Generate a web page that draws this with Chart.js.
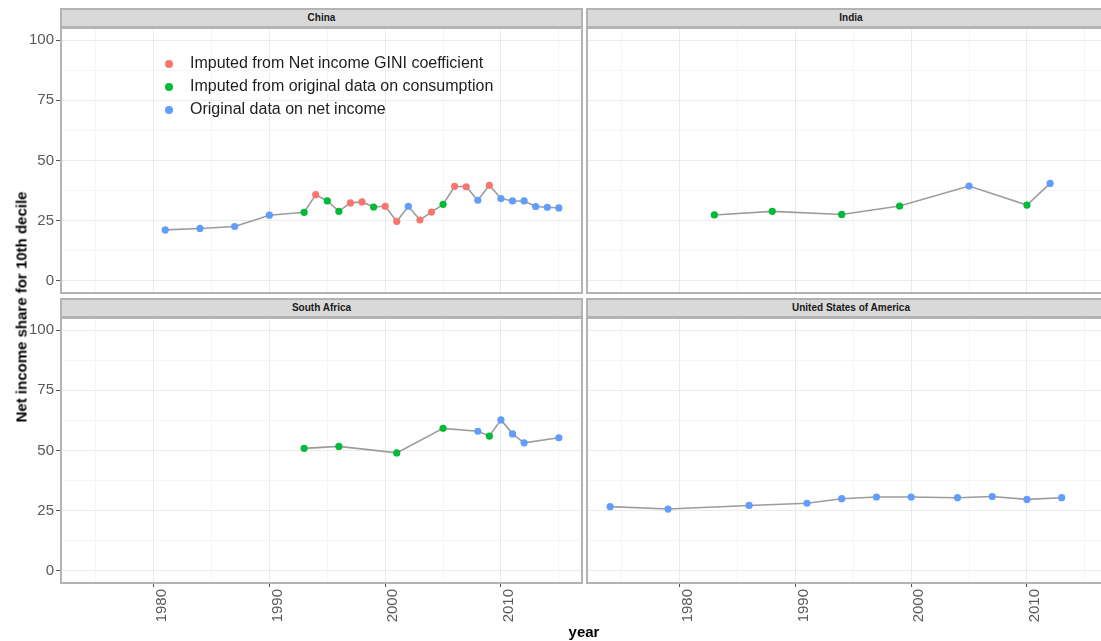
<!DOCTYPE html>
<html>
<head>
<meta charset="utf-8">
<script src="https://cdn.jsdelivr.net/npm/chart.js@4/dist/chart.umd.min.js"></script>
<style>
  html, body { margin: 0; padding: 0; }
  body { width: 1101px; height: 641px; overflow: hidden; background: #fff; position: relative;
         font-family: "Liberation Sans", Arial, sans-serif; }
  .strip { position: absolute; box-sizing: border-box; background: #D9D9D9; border: 2px solid #B3B3B3;
           text-align: center; font-weight: bold; font-size: 10px; color: #1A1A1A; line-height: 16px; }
  .panel { position: absolute; box-sizing: border-box; border: 2px solid #B3B3B3; pointer-events: none; z-index: 3; }
  canvas { position: absolute; }
  .leg { position: absolute; font-size: 16px; color: #1E1E1E; white-space: nowrap; z-index: 4; }
  .dot { position: absolute; width: 8px; height: 8px; border-radius: 50%; z-index: 4; }
  .ytitle { position: absolute; font-weight: bold; font-size: 15px; color: #000; white-space: nowrap;
            transform: translate(-50%, -50%) rotate(-90deg); left: 21px; top: 307px; }
  .xtitle { position: absolute; font-weight: bold; font-size: 15px; color: #000; white-space: nowrap;
            transform: translate(-50%, -50%); left: 584px; top: 631px; }
</style>
</head>
<body>
<canvas id="cTL" width="582" height="265" style="left:0;top:28px"></canvas>
<canvas id="cTR" width="521" height="265" style="left:587px;top:28px"></canvas>
<canvas id="cBL" width="582" height="323" style="left:0;top:318px"></canvas>
<canvas id="cBR" width="521" height="323" style="left:587px;top:318px"></canvas>
<div id="deco"></div>
<div class="ytitle">Net income share for 10th decile</div>
<div class="xtitle">year</div>
<script>
// ---------- data ----------
const sourceNames = ["Imputed from Net income GINI coefficient", "Imputed from original data on consumption", "Original data on net income"];
const sourceColors = ["#F8766D", "#00BA38", "#619CFF"];
const countries = ["China", "India", "South Africa", "United States of America"];

const chinaYears  = [1981,1984,1987,1990,1993,1994,1995,1996,1997,1998,1999,2000,2001,2002,2003,2004,2005,2006,2007,2008,2009,2010,2011,2012,2013,2014,2015];
const chinaShare  = [21.2,21.8,22.6,27.3,28.5,35.8,33.2,28.9,32.4,32.8,30.7,31.0,24.7,31.0,25.3,28.6,31.8,39.3,39.1,33.5,39.7,34.2,33.2,33.2,30.9,30.6,30.3];
const chinaSource = [2,2,2,2,1,0,1,1,0,0,1,0,0,2,0,0,1,0,0,2,0,2,2,2,2,2,2];

const indiaYears  = [1983,1988,1994,1999,2005,2010,2012];
const indiaShare  = [27.4,28.9,27.6,31.1,39.4,31.5,40.5];
const indiaSource = [1,1,1,1,2,1,2];

const saYears  = [1993,1996,2001,2005,2008,2009,2010,2011,2012,2015];
const saShare  = [50.9,51.7,49.0,59.2,58.0,56.0,62.7,56.9,53.2,55.3];
const saSource = [1,1,1,1,2,1,2,2,2,2];

const usYears  = [1974,1979,1986,1991,1994,1997,2000,2004,2007,2010,2013];
const usShare  = [26.7,25.7,27.2,28.1,30.0,30.7,30.7,30.4,30.9,29.7,30.4];
const usSource = [2,2,2,2,2,2,2,2,2,2,2];

const xMajor = [1980, 1990, 2000, 2010];
const xMinor = [1975, 1985, 1995, 2005, 2015];
const yMajor = [0, 25, 50, 75, 100];
const yMinor = [12.5, 37.5, 62.5, 87.5];
const xRange = [1972, 2017];
const yRange = [-5, 105];

// ---------- drawing ----------
const tickFont = { family: "'Liberation Sans', Arial, sans-serif", size: 15 };
const isMajor = (arr, ctx) => ctx.tick && arr.includes(ctx.tick.value);
const noPad = s => { s.paddingTop = 0; s.paddingBottom = 0; s.paddingLeft = 0; s.paddingRight = 0; };

function makeChart(id, years, share, source, showY, showX) {
  const xt = xMajor.concat(xMinor).sort((a, b) => a - b);
  const yt = yMajor.concat(yMinor).sort((a, b) => a - b);
  return new Chart(document.getElementById(id), {
    type: 'line',
    data: {
      datasets: [{
        data: years.map((yr, i) => ({ x: yr, y: share[i] })),
        borderColor: '#9C9C9C',
        borderWidth: 1.6,
        tension: 0,
        pointRadius: 3.6,
        pointHoverRadius: 3.6,
        pointBorderWidth: 0,
        pointBackgroundColor: source.map(s => sourceColors[s]),
        pointBorderColor: source.map(s => sourceColors[s])
      }]
    },
    options: {
      responsive: false,
      animation: false,
      devicePixelRatio: 1,
      events: [],
      layout: { padding: 0, autoPadding: false },
      plugins: { legend: { display: false }, tooltip: { enabled: false } },
      scales: {
        x: {
          type: 'linear', min: xRange[0], max: xRange[1],
          afterBuildTicks: s => { s.ticks = xt.map(v => ({ value: v })); },
          afterFit: s => { s.height = showX ? 58 : 0; noPad(s); },
          border: { display: false },
          grid: {
            color: ctx => isMajor(xMajor, ctx) ? '#EBEBEB' : '#F5F5F5',
            lineWidth: 1,
            drawTicks: showX,
            tickLength: 4,
            tickColor: ctx => isMajor(xMajor, ctx) ? '#555555' : 'rgba(0,0,0,0)'
          },
          ticks: {
            display: showX, autoSkip: false, minRotation: 90, maxRotation: 90,
            font: tickFont, color: '#5A5A5A', padding: 2, labelOffset: 8,
            callback: v => xMajor.includes(v) ? String(v) : ''
          }
        },
        y: {
          type: 'linear', min: yRange[0], max: yRange[1],
          afterBuildTicks: s => { s.ticks = yt.map(v => ({ value: v })); },
          afterFit: s => { s.width = showY ? 61 : 0; noPad(s); },
          border: { display: false },
          grid: {
            color: ctx => isMajor(yMajor, ctx) ? '#EBEBEB' : '#F5F5F5',
            lineWidth: 1,
            drawTicks: showY,
            tickLength: 5,
            tickColor: ctx => isMajor(yMajor, ctx) ? '#555555' : 'rgba(0,0,0,0)'
          },
          ticks: {
            display: showY, autoSkip: false,
            font: tickFont, color: '#5A5A5A', padding: 2,
            callback: v => yMajor.includes(v) ? String(v) : ''
          }
        }
      }
    }
  });
}

makeChart('cTL', chinaYears, chinaShare, chinaSource, true, false);
makeChart('cTR', indiaYears, indiaShare, indiaSource, false, false);
makeChart('cBL', saYears, saShare, saSource, true, true);
makeChart('cBR', usYears, usShare, usSource, false, true);

// ---------- strips, panel borders, legend ----------
const deco = document.getElementById('deco');
const panels = [
  { name: countries[0], left: 60, top: 8,   width: 523 },
  { name: countries[1], left: 586, top: 8,  width: 530 },
  { name: countries[2], left: 60, top: 298, width: 523 },
  { name: countries[3], left: 586, top: 298, width: 530 }
];
panels.forEach(p => {
  const s = document.createElement('div');
  s.className = 'strip';
  s.style.cssText = `left:${p.left}px;top:${p.top}px;width:${p.width}px;height:20px;`;
  s.textContent = p.name;
  deco.appendChild(s);
  const b = document.createElement('div');
  b.className = 'panel';
  b.style.cssText = `left:${p.left}px;top:${p.top + 19}px;width:${p.width}px;height:267px;`;
  deco.appendChild(b);
});
sourceNames.forEach((n, i) => {
  const cy = 64 + i * 23;
  const d = document.createElement('div');
  d.className = 'dot';
  d.style.cssText = `left:165px;top:${cy - 4}px;background:${sourceColors[i]};`;
  deco.appendChild(d);
  const t = document.createElement('div');
  t.className = 'leg';
  t.style.cssText = `left:190px;top:${cy - 10}px;`;
  t.textContent = n;
  deco.appendChild(t);
});
</script>
</body>
</html>
